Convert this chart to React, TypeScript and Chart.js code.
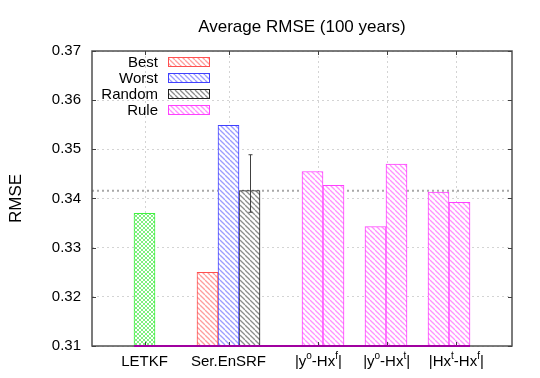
import React, { useEffect, useRef } from "react";
import { Chart, registerables } from "chart.js";

Chart.register(...registerables);

// ---------- data ----------
const SLOT_COUNT = 20;

type Part = { t: string; sup?: boolean };
const groupLabels: Part[][] = [
  [{ t: "LETKF" }],
  [{ t: "Ser.EnSRF" }],
  [{ t: "|y" }, { t: "o", sup: true }, { t: "-Hx" }, { t: "f", sup: true }, { t: "|" }],
  [{ t: "|y" }, { t: "o", sup: true }, { t: "-Hx" }, { t: "t", sup: true }, { t: "|" }],
  [{ t: "|Hx" }, { t: "t", sup: true }, { t: "-Hx" }, { t: "f", sup: true }, { t: "|" }],
];
const groupLabelSlots = [2.5, 6.5, 10.78, 14.03, 17.35];

const letkfValues = [0.337];
const letkfSlots = [2];
const bestValues = [0.325];
const bestSlots = [5];
const worstValues = [0.3549];
const worstSlots = [6];
const randomValues = [0.3416];
const randomSlots = [7];
const randomErrLow = [0.3372];
const randomErrHigh = [0.3489];
const ruleValues = [0.3455, 0.3427, 0.3343, 0.347, 0.3413, 0.3392];
const ruleSlots = [10, 11, 13, 14, 16, 17];

const referenceLine = randomValues[0];

const yMin = 0.31;
const yMax = 0.37;
const yStep = 0.01;

const legendNames = ["Best", "Worst", "Random", "Rule"];

const titleText = "Average RMSE (100 years)";
const yTitle = "RMSE";

const FONT = "'Liberation Sans', Arial, Helvetica, sans-serif";

function place(values: number[], slots: number[]) {
  const arr: (number | null)[] = new Array(SLOT_COUNT).fill(null);
  slots.forEach((s, i) => (arr[s] = values[i]));
  return arr;
}

function makePattern(color: string, cross: boolean, size: number, lw: number) {
  const c = document.createElement("canvas");
  c.width = size;
  c.height = size;
  const g = c.getContext("2d")!;
  g.fillStyle = "#ffffff";
  g.fillRect(0, 0, size, size);
  g.strokeStyle = color;
  g.lineWidth = lw;
  for (const x0 of [-size, 0, size]) {
    g.beginPath();
    g.moveTo(x0, 0);
    g.lineTo(x0 + size, size);
    g.stroke();
    if (cross) {
      g.beginPath();
      g.moveTo(x0 + size, 0);
      g.lineTo(x0, size);
      g.stroke();
    }
  }
  return g.createPattern(c, "repeat")!;
}

export default function App() {
  const ref = useRef<HTMLCanvasElement>(null);

  useEffect(() => {
    document.body.style.margin = "0";
    const canvas = ref.current!;
    const ctx = canvas.getContext("2d")!;

    const greenPat = makePattern("rgba(40,230,40,0.6)", true, 4, 1);
    const redPat = makePattern("rgba(255,60,60,0.5)", false, 5, 1.3);
    const bluePat = makePattern("rgba(60,60,255,0.5)", false, 5, 1.3);
    const blackPat = makePattern("rgba(0,0,0,0.45)", false, 5, 1.3);
    const pinkPat = makePattern("rgba(255,40,255,0.5)", false, 5, 1.3);

    const datasets: any[] = [
      { label: "LETKF", data: place(letkfValues, letkfSlots), backgroundColor: greenPat, borderColor: "#40f040" },
      { label: "Best", data: place(bestValues, bestSlots), backgroundColor: redPat, borderColor: "#ff5050" },
      { label: "Worst", data: place(worstValues, worstSlots), backgroundColor: bluePat, borderColor: "#4040ff" },
      { label: "Random", data: place(randomValues, randomSlots), backgroundColor: blackPat, borderColor: "#202020" },
      { label: "Rule", data: place(ruleValues, ruleSlots), backgroundColor: pinkPat, borderColor: "#ff40ff" },
    ].map((d) => ({
      ...d,
      borderWidth: 1,
      borderSkipped: false,
      categoryPercentage: 1,
      barPercentage: 1,
      grouped: false,
    }));

    const allSlots = [...letkfSlots, ...bestSlots, ...worstSlots, ...randomSlots, ...ruleSlots];

    const decorations = {
      id: "decorations",
      beforeDatasetsDraw(chart: any) {
        const { ctx: c, chartArea: a, scales } = chart;
        const xs = scales.x;
        const ys = scales.y;
        c.save();
        // vertical grid lines
        c.strokeStyle = "#d4d4d4";
        c.lineWidth = 1;
        c.setLineDash([2, 3]);
        for (const p of groupLabelSlots) {
          const x = Math.round(xs.getPixelForDecimal(p / SLOT_COUNT)) + 0.5;
          c.beginPath();
          c.moveTo(x, a.top);
          c.lineTo(x, a.bottom);
          c.stroke();
        }
        // dotted reference line
        c.strokeStyle = "#a8a8a8";
        c.lineWidth = 2;
        c.setLineDash([2, 3]);
        const ry = ys.getPixelForValue(referenceLine);
        c.beginPath();
        c.moveTo(a.left, ry);
        c.lineTo(a.right, ry);
        c.stroke();
        c.restore();
      },
      afterDatasetsDraw(chart: any) {
        const { ctx: c, chartArea: a, scales } = chart;
        const xs = scales.x;
        const ys = scales.y;
        c.save();
        // error bar on Random
        const rIdx = chart.data.datasets.findIndex((d: any) => d.label === "Random");
        const meta = chart.getDatasetMeta(rIdx);
        randomSlots.forEach((s, i) => {
          const el = meta.data[s];
          if (!el) return;
          const x = Math.round(el.x) + 0.5;
          const y1 = ys.getPixelForValue(randomErrLow[i]);
          const y2 = ys.getPixelForValue(randomErrHigh[i]);
          c.strokeStyle = "#404040";
          c.lineWidth = 1;
          c.beginPath();
          c.moveTo(x, y1);
          c.lineTo(x, y2);
          c.moveTo(x - 2, y1);
          c.lineTo(x + 2, y1);
          c.moveTo(x - 2, y2);
          c.lineTo(x + 2, y2);
          c.stroke();
        });
        // frame
        c.strokeStyle = "#505050";
        c.lineWidth = 1.5;
        c.strokeRect(a.left, a.top, a.right - a.left, a.bottom - a.top);
        // inward ticks
        c.lineWidth = 1;
        c.strokeStyle = "#404040";
        for (const t of ys.ticks) {
          const y = Math.round(ys.getPixelForValue(t.value)) + 0.5;
          c.beginPath();
          c.moveTo(a.left, y);
          c.lineTo(a.left + 4, y);
          c.moveTo(a.right, y);
          c.lineTo(a.right - 4, y);
          c.stroke();
        }
        for (const p of groupLabelSlots) {
          const x = Math.round(xs.getPixelForDecimal(p / SLOT_COUNT)) + 0.5;
          c.beginPath();
          c.moveTo(x, a.top);
          c.lineTo(x, a.top + 4);
          c.moveTo(x, a.bottom);
          c.lineTo(x, a.bottom - 4);
          c.stroke();
        }
        // purple baseline under the bars
        const x0 = xs.getPixelForDecimal(Math.min(...allSlots) / SLOT_COUNT);
        const x1 = xs.getPixelForDecimal((Math.max(...allSlots) + 1) / SLOT_COUNT);
        c.strokeStyle = "#a000a0";
        c.lineWidth = 2;
        c.beginPath();
        c.moveTo(x0, a.bottom);
        c.lineTo(x1, a.bottom);
        c.stroke();
        c.restore();
      },
      afterDraw(chart: any) {
        const { ctx: c, chartArea: a, scales } = chart;
        const xs = scales.x;
        c.save();
        c.fillStyle = "#000";
        // x labels with superscripts
        const base = a.bottom + 20;
        groupLabels.forEach((parts, i) => {
          const cx = xs.getPixelForDecimal(groupLabelSlots[i] / SLOT_COUNT);
          let total = 0;
          const widths = parts.map((p) => {
            c.font = `${p.sup ? 10 : 15}px ${FONT}`;
            const w = c.measureText(p.t).width;
            total += w;
            return w;
          });
          let x = cx - total / 2;
          c.textAlign = "left";
          c.textBaseline = "alphabetic";
          parts.forEach((p, j) => {
            c.font = `${p.sup ? 10 : 15}px ${FONT}`;
            c.fillText(p.t, x, p.sup ? base - 7 : base);
            x += widths[j];
          });
        });
        // legend
        c.font = `15px ${FONT}`;
        c.textAlign = "right";
        c.textBaseline = "middle";
        legendNames.forEach((name, i) => {
          const ds = chart.data.datasets.find((d: any) => d.label === name);
          const y = 62 + i * 16;
          c.fillStyle = "#000";
          c.fillText(name, 158, y + 1);
          c.fillStyle = ds.backgroundColor;
          c.fillRect(168.5, y - 4.5, 41, 9);
          c.strokeStyle = ds.borderColor;
          c.lineWidth = 1;
          c.strokeRect(168.5, y - 4.5, 41, 9);
        });
        // title
        c.fillStyle = "#000";
        c.font = `17px ${FONT}`;
        c.textAlign = "center";
        c.textBaseline = "alphabetic";
        c.fillText(titleText, (a.left + a.right) / 2, 32);
        // y title
        c.translate(16, (a.top + a.bottom) / 2);
        c.rotate(-Math.PI / 2);
        c.textBaseline = "middle";
        c.fillText(yTitle, 0, 0);
        c.restore();
      },
    };

    const chart = new Chart(ctx, {
      type: "bar",
      data: {
        labels: Array.from({ length: SLOT_COUNT }, (_, i) => String(i)),
        datasets,
      },
      options: {
        responsive: false,
        animation: false,
        layout: { padding: { top: 51, right: 28, left: 0, bottom: 0 } },
        plugins: {
          legend: { display: false },
          title: { display: false },
          tooltip: { enabled: false },
        },
        scales: {
          x: {
            type: "category",
            offset: true,
            grid: { display: false },
            border: { display: false },
            ticks: { display: false },
            afterFit: (s: any) => {
              s.height = 32;
            },
          },
          y: {
            type: "linear",
            min: yMin,
            max: yMax,
            ticks: {
              stepSize: yStep,
              color: "#000",
              padding: 11,
              font: { family: FONT, size: 15 },
              callback: (v: any) => Number(v).toFixed(2),
            },
            grid: { color: "#d4d4d4", lineWidth: 1, drawTicks: false },
            border: { display: false, dash: [2, 3] },
            afterFit: (s: any) => {
              s.width = 92;
            },
          },
        },
      } as any,
      plugins: [decorations],
    });

    return () => chart.destroy();
  }, []);

  return (
    <div style={{ width: 540, height: 378, position: "relative" }}>
      <canvas ref={ref} width={540} height={378} style={{ display: "block", width: 540, height: 378 }} />
    </div>
  );
}
